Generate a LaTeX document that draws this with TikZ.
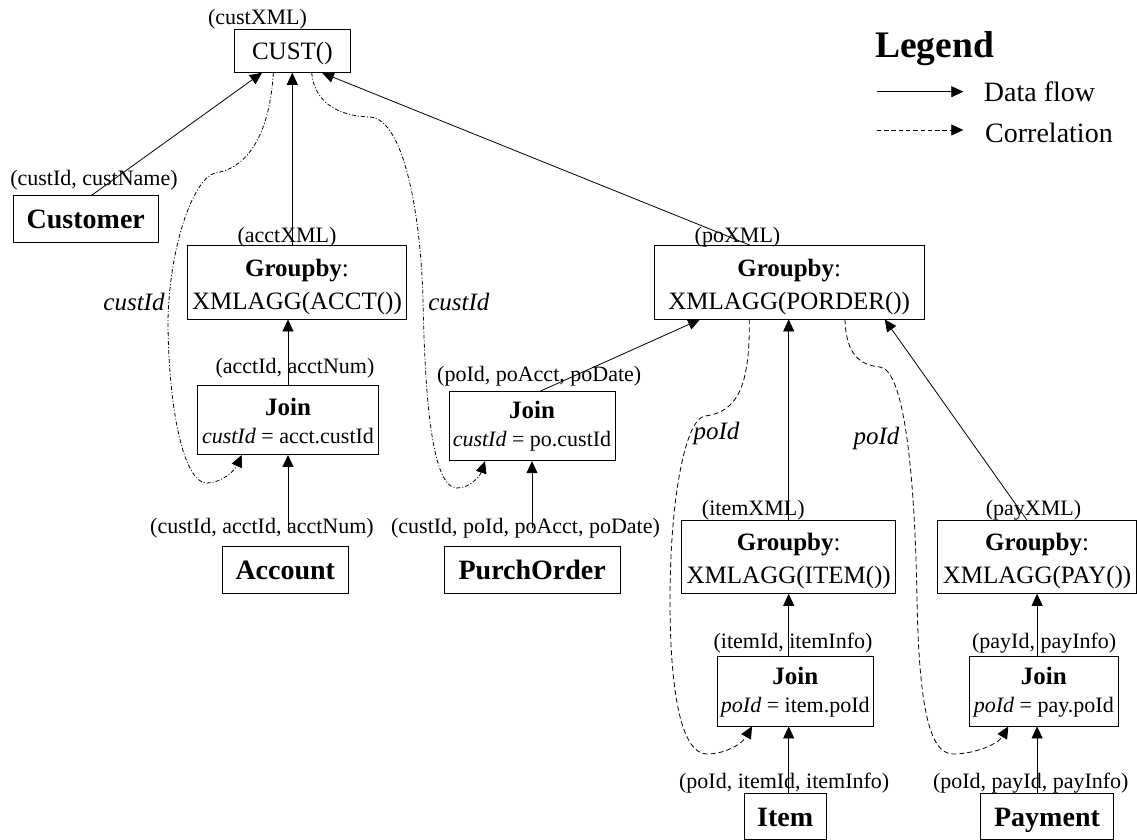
\documentclass[tikz,border=0pt]{standalone}
\usepackage{fontspec}
\setmainfont{Liberation Serif}
\usetikzlibrary{arrows.meta,calc}
\newcommand\flbl{\fontsize{22}{26}\selectfont}
\newcommand\fcond{\fontsize{22}{27.5}\selectfont}
\begin{document}
\begin{tikzpicture}[x=1pt,y=-1pt,
 box/.style={draw,line width=0.9pt,inner sep=0pt,align=center},
 gbox/.style={box,font=\fontsize{25}{33}\selectfont,minimum height=73.3pt},
 jbox/.style={box,font=\fontsize{25}{27.5}\selectfont,minimum height=69pt},
 tbox/.style={box,font=\fontsize{28}{32}\selectfont\bfseries,minimum height=46.6pt,text height=19pt,text depth=0pt},
 lbl/.style={inner sep=0pt,font=\flbl},
 elbl/.style={inner sep=0pt,font=\fontsize{25}{30}\selectfont\itshape,anchor=base},
 flow/.style={line width=0.8pt,-{Triangle[length=12pt,width=11pt]}},
 corrA/.style={flow,dash pattern=on 4pt off 2pt on 1pt off 2pt},
 corrB/.style={flow,dash pattern=on 5pt off 3pt}]
\useasboundingbox (0,0) rectangle (1137,839);
% boxes
\node[box,font=\fontsize{25}{30}\selectfont,minimum width=116pt,minimum height=43pt,text depth=0pt] (cust) at (292.3,50.8) {CUST()};
\node[tbox,minimum width=145pt] (customer) at (85.8,219) {Customer};
\node[gbox,minimum width=219.4pt] (gacct) at (297,282.3) {\rule{0pt}{26pt}\textbf{Groupby}:\\XMLAGG(ACCT())};
\node[jbox,minimum width=180.6pt] (jacct) at (288,420) {\rule{0pt}{19pt}\textbf{Join}\\{\fcond\textit{custId} = acct.custId}};
\node[tbox,minimum width=126pt] (account) at (285.3,570) {Account};
\node[gbox,minimum width=270.3pt] (gpo) at (789.2,282.3) {\rule{0pt}{26pt}\textbf{Groupby}:\\XMLAGG(PORDER())};
\node[jbox,minimum width=166pt] (jpo) at (532,426.2) {\textbf{Join}\\{\fcond\textit{custId} = po.custId}};
\node[tbox,minimum width=175.7pt] (purch) at (532.2,570) {PurchOrder};
\node[gbox,minimum width=214pt] (gitem) at (788.7,556.7) {\rule{0pt}{26pt}\textbf{Groupby}:\\XMLAGG(ITEM())};
\node[jbox,minimum width=156pt,minimum height=69.3pt] (jitem) at (795.3,691.3) {\rule{0pt}{19pt}\textbf{Join}\\{\fcond\textit{poId} = item.poId}};
\node[tbox,minimum width=81.7pt] (item) at (785.2,816.6) {Item};
\node[gbox,minimum width=198.8pt] (gpay) at (1037.1,556.7) {\rule{0pt}{26pt}\textbf{Groupby}:\\XMLAGG(PAY())};
\node[jbox,minimum width=149pt,minimum height=69.3pt] (jpay) at (1043.8,691.3) {\rule{0pt}{19pt}\textbf{Join}\\{\fcond\textit{poId} = pay.poId}};
\node[tbox,minimum width=132.6pt] (payment) at (1047,816.6) {Payment};
% labels
\node[lbl] (lcust) at (257.5,19) {(custXML)};
\node[lbl] (lcustin) at (94,180) {(custId, custName)};
\node[lbl] (lacct) at (287,237) {(acctXML)};
\node[lbl] (lacctj) at (295,368) {(acctId, acctNum)};
\node[lbl] (lacctin) at (262,528) {(custId, acctId, acctNum)};
\node[lbl] (lpo) at (737.5,237) {(poXML)};
\node[lbl] (lpoj) at (539.2,376.7) {(poId, poAcct, poDate)};
\node[lbl] (lpoin) at (525.5,528.3) {(custId, poId, poAcct, poDate)};
\node[lbl] (litem) at (753.3,510) {(itemXML)};
\node[lbl] (litemj) at (793,643.3) {(itemId, itemInfo)};
\node[lbl] (litemin) at (784.2,783.3) {(poId, itemId, itemInfo)};
\node[lbl] (lpay) at (1033.5,510) {(payXML)};
\node[lbl] (lpayj) at (1044.2,643.3) {(payId, payInfo)};
\node[lbl] (lpayin) at (1030.8,783.3) {(poId, payId, payInfo)};
% edge labels
\node[elbl] (ec1) at (134,310.7) {custId};
\node[elbl] (ec2) at (458.8,310.7) {custId};
\node[elbl] (ep1) at (716.5,439.3) {poId};
\node[elbl] (ep2) at (876.5,444) {poId};
% legend
\node[anchor=base west,inner sep=0pt,font=\fontsize{37.5}{40}\selectfont\bfseries] (legend) at (875,57.5) {Legend};
\coordinate (lf1) at (876.7,91.7);
\coordinate (lf2) at (963.3,91.7);
\coordinate (lc1) at (876.7,130);
\coordinate (lc2) at (963.3,130);
\draw[flow] (lf1) -- (lf2);
\draw[flow,dash pattern=on 4.5pt off 2.8pt] (lc1) -- (lc2);
\node[anchor=base west,inner sep=0pt,font=\fontsize{28}{32}\selectfont] (ldf) at (983.7,101) {Data flow};
\node[anchor=base west,inner sep=0pt,font=\fontsize{28}{32}\selectfont] (lcor) at (985,142.7) {Correlation};
% data flow
\draw[flow] ([xshift=5.9pt]customer.north) -- ([xshift=-30.3pt]cust.south);
\draw[flow] (gacct.north -| cust.south) -- (cust.south);
\draw[flow] ([xshift=-39.2pt]gpo.north) -- ([xshift=29.7pt]cust.south);
\draw[flow] (jacct.north) -- (jacct.north |- gacct.south);
\draw[flow] (lacctin -| jacct.south) -- (jacct.south);
\draw[flow] ([xshift=8pt]jpo.north) -- ([xshift=-89.2pt]gpo.south);
\draw[flow] (lpoin -| jpo.south) -- (jpo.south);
\draw[flow] (gitem.north) -- (gitem.north |- gpo.south);
\draw[flow] (jitem.north -| gitem.south) -- (gitem.south);
\draw[flow] (item.north -| gitem.south) -- (jitem.south -| gitem.south);
\draw[flow] ([xshift=-10.5pt]gpay.north) -- ([xshift=95.5pt]gpo.south);
\draw[flow] (jpay.north -| gpay.south) -- (gpay.south);
\draw[flow] (payment.north -| gpay.south) -- (jpay.south -| gpay.south);
% correlation
\draw[corrA] ([xshift=-19pt]cust.south) .. controls (270,130) and (250,168) .. (215,173) .. controls (195,178) and (170,240) .. (168,320) .. controls (168,400) and (182,483) .. (207,483) .. controls (222,483) and (235,470) .. ([xshift=-46.3pt]jacct.south);
\draw[corrA] ([xshift=19.4pt]cust.south) .. controls (314,100) and (335,116) .. (370,117) .. controls (405,119) and (421,220) .. (423,300) .. controls (425,400) and (432,488) .. (457,488) .. controls (470,488) and (480,476) .. ([xshift=-47pt]jpo.south);
\draw[corrB] ([xshift=-39.9pt]gpo.south) .. controls (750,385) and (738,412) .. (705,416) .. controls (685,419) and (670,500) .. (670,600) .. controls (670,700) and (683,754) .. (707,754) .. controls (725,754) and (742,744) .. ([xshift=-43.3pt]jitem.south);
\draw[corrB] ([xshift=55.8pt]gpo.south) .. controls (846,355) and (860,365) .. (880,367) .. controls (905,370) and (915,480) .. (917,600) .. controls (919,700) and (928,754) .. (953,754) .. controls (975,754) and (998,744) .. ([xshift=-35.5pt]jpay.south);
\end{tikzpicture}
\end{document}
